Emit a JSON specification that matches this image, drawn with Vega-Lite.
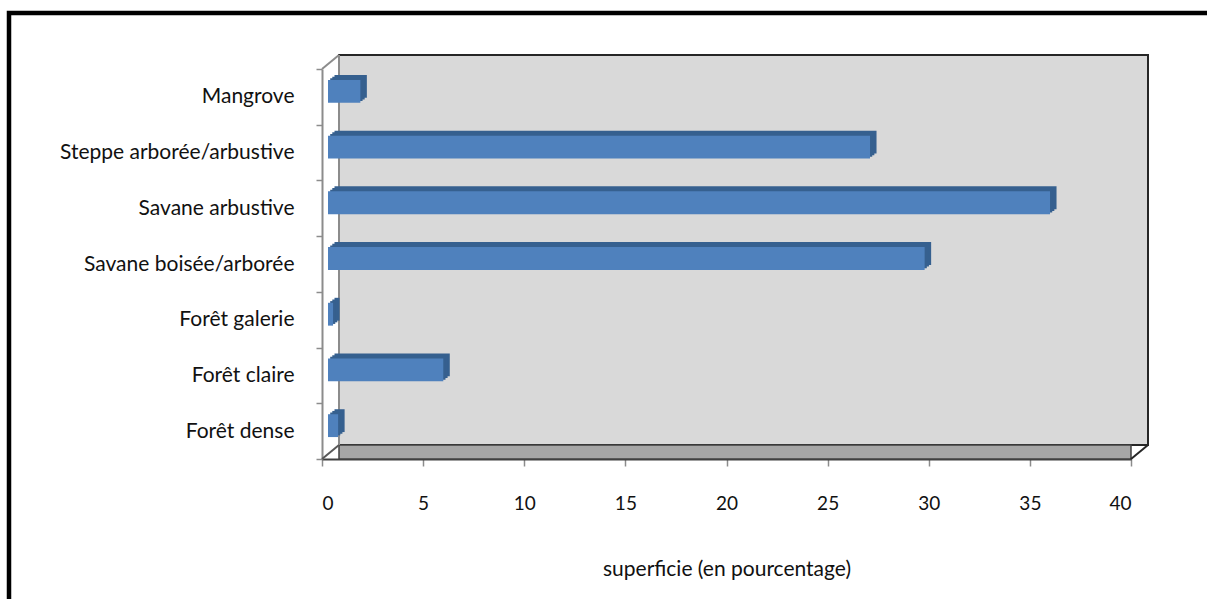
{
  "$schema": "https://vega.github.io/schema/vega-lite/v6.json",
  "width": 1230,
  "height": 620,
  "autosize": {"type": "none"},
  "padding": {"left": 9, "top": 13, "right": -32, "bottom": -34},
  "background": "white",
  "config": {
    "view": {"stroke": "#000000", "strokeWidth": 4.5, "fill": "white"},
    "font": "Lato",
    "axis": {"labelFont": "Lato", "titleFont": "Lato"}
  },
  "datasets": {
    "habitats": [
      {"type": "Mangrove", "pct": 1.6},
      {"type": "Steppe arborée/arbustive", "pct": 26.8},
      {"type": "Savane arbustive", "pct": 35.7},
      {"type": "Savane boisée/arborée", "pct": 29.5},
      {"type": "Forêt galerie", "pct": 0.25},
      {"type": "Forêt claire", "pct": 5.7},
      {"type": "Forêt dense", "pct": 0.5}
    ],
    "box": [{"x0": 0, "x1": 40, "y0": 0, "y1": 1}]
  },
  "resolve": {"scale": {"y": "independent"}, "axis": {"y": "independent"}},
  "layer": [
    {
      "data": {"name": "box"},
      "encoding": {
        "y": {"field": "y0", "type": "quantitative", "scale": {"domain": [0, 1], "range": [446, 56]}, "axis": null}
      },
      "layer": [
        {
          "mark": {"type": "rect", "fill": "#d9d9d9", "stroke": "#262626", "strokeWidth": 2, "xOffset": 17, "x2Offset": 17, "yOffset": -14, "y2Offset": -14},
          "encoding": {
            "x": {"field": "x0", "type": "quantitative", "scale": {"domain": [0, 40], "range": [313, 1122]},
              "axis": {"orient": "bottom", "offset": -174, "values": [0, 5, 10, 15, 20, 25, 30, 35, 40], "grid": false,
                "tickSize": 7, "tickColor": "#8c8c8c", "tickWidth": 1.5, "domainColor": "#404040", "domainWidth": 2,
                "labelPadding": 28, "labelFontSize": 19, "labelColor": "#111111",
                "title": "superficie (en pourcentage)", "titleFontSize": 21, "titleFontWeight": "normal", "titleColor": "#111111", "titlePadding": 45}},
            "x2": {"field": "x1"},
            "y2": {"field": "y1"}
          }
        },
        {
          "mark": {"type": "rect", "fill": "#a6a6a6", "stroke": "#404040", "strokeWidth": 1.5, "xOffset": 17, "x2Offset": 0, "yOffset": -14, "y2Offset": 0},
          "encoding": {
            "x": {"field": "x0", "type": "quantitative"},
            "x2": {"field": "x1"},
            "y2": {"field": "y0"}
          }
        },
        {
          "mark": {"type": "rule", "stroke": "#8c8c8c", "strokeWidth": 2, "xOffset": 17, "x2Offset": 17, "yOffset": -14, "y2Offset": -14},
          "encoding": {
            "x": {"field": "x0", "type": "quantitative"},
            "x2": {"field": "x0"},
            "y2": {"field": "y1"}
          }
        },
        {
          "mark": {"type": "rule", "stroke": "#8c8c8c", "strokeWidth": 2, "xOffset": 0, "x2Offset": 17, "yOffset": 0, "y2Offset": -14},
          "encoding": {
            "x": {"field": "x0", "type": "quantitative"},
            "x2": {"field": "x0"},
            "y": {"field": "y1", "type": "quantitative"},
            "y2": {"field": "y1"}
          }
        },
        {
          "mark": {"type": "rule", "stroke": "#595959", "strokeWidth": 2, "xOffset": 0, "x2Offset": 17, "yOffset": 0, "y2Offset": -14},
          "encoding": {
            "x": {"field": "x0", "type": "quantitative"},
            "x2": {"field": "x0"},
            "y2": {"field": "y0"}
          }
        },
        {
          "mark": {"type": "rule", "stroke": "#262626", "strokeWidth": 2, "xOffset": 0, "x2Offset": 17, "yOffset": 0, "y2Offset": -14},
          "encoding": {
            "x": {"field": "x1", "type": "quantitative"},
            "x2": {"field": "x1"},
            "y2": {"field": "y0"}
          }
        }
      ]
    },
    {
      "data": {"name": "habitats"},
      "encoding": {
        "x": {"field": "pct", "type": "quantitative"},
        "y": {"field": "type", "type": "nominal",
          "scale": {"type": "band", "domain": ["Mangrove", "Steppe arborée/arbustive", "Savane arbustive", "Savane boisée/arborée", "Forêt galerie", "Forêt claire", "Forêt dense"], "range": [56, 446], "paddingInner": 0, "paddingOuter": 0},
          "axis": {"orient": "left", "offset": -313, "title": null, "tickBand": "extent", "tickSize": 6, "tickColor": "#8c8c8c", "tickWidth": 1.5,
            "domainColor": "#8c8c8c", "domainWidth": 2, "labelPadding": 22, "labelFontSize": 21, "labelColor": "#111111", "labelLimit": 400}}
      },
      "layer": [
        {"mark": {"type": "bar", "color": "#36608f", "height": {"band": 0.41}, "xOffset": 12.5, "x2Offset": 12.5, "yOffset": -10.5, "y2Offset": -10.5}},
        {"mark": {"type": "bar", "color": "#36608f", "height": {"band": 0.41}, "xOffset": 10.3, "x2Offset": 10.3, "yOffset": -8.8, "y2Offset": -8.8}},
        {"mark": {"type": "bar", "color": "#36608f", "height": {"band": 0.41}, "xOffset": 8.2, "x2Offset": 8.2, "yOffset": -7.2, "y2Offset": -7.2}},
        {"mark": {"type": "bar", "color": "#4f81bd", "height": {"band": 0.41}, "xOffset": 6, "x2Offset": 6, "yOffset": -5.5, "y2Offset": -5.5}}
      ]
    }
  ]
}
